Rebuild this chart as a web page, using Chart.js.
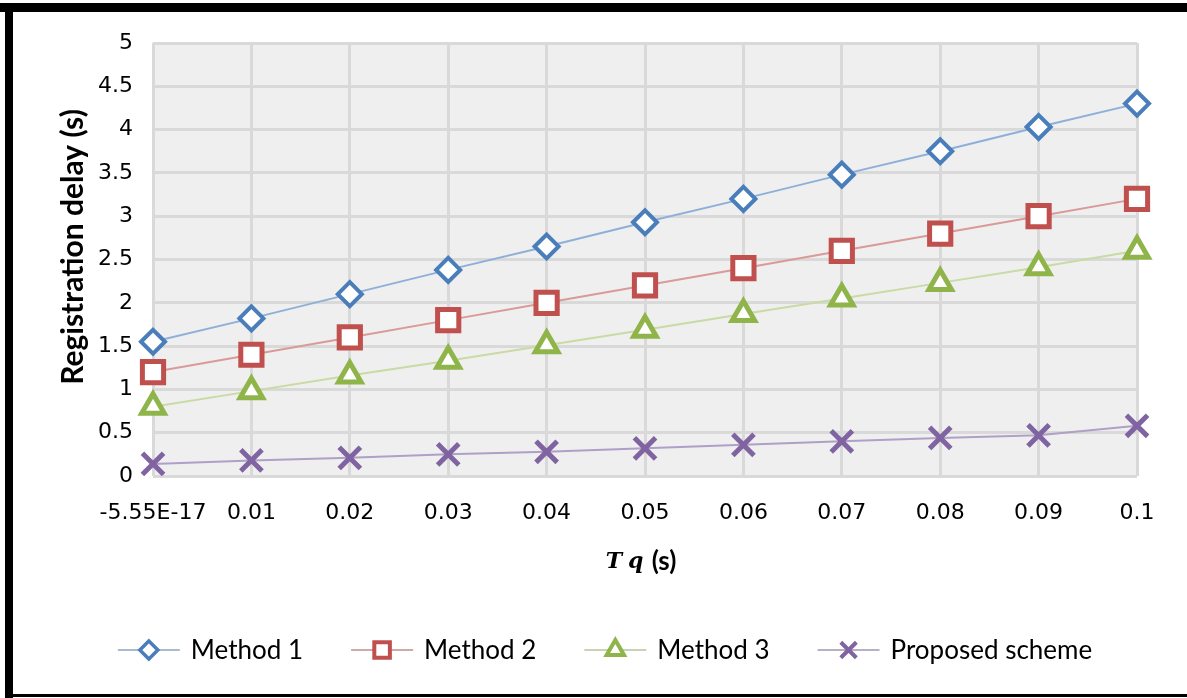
<!DOCTYPE html>
<html><head><meta charset="utf-8">
<script src="https://cdn.jsdelivr.net/npm/chart.js@4.4.0/dist/chart.umd.min.js"></script>
<style>html,body{margin:0;padding:0;background:#fff;} canvas{display:block;}</style>
</head><body>
<canvas id="c" width="1187" height="698"></canvas>
<script>
const categories = ['-5.55E-17','0.01','0.02','0.03','0.04','0.05','0.06','0.07','0.08','0.09','0.1'];
const method1 = [1.55,1.82,2.10,2.38,2.65,2.93,3.20,3.48,3.75,4.03,4.30];
const method2 = [1.20,1.40,1.60,1.80,2.00,2.20,2.40,2.60,2.80,3.00,3.20];
const method3 = [0.80,0.98,1.16,1.33,1.51,1.69,1.87,2.05,2.23,2.41,2.60];
const proposed = [0.14,0.18,0.21,0.25,0.28,0.32,0.36,0.40,0.44,0.47,0.58];
const seriesNames = ['Method 1','Method 2','Method 3','Proposed scheme'];
const yMin = 0, yMax = 5, yStep = 0.5;
const xTitleItalic = 'Tq', xTitleRest = ' (s)';
const yTitle = 'Registration delay (s)';

const FONT = 'Lato, "Open Sans", sans-serif';
const TICKFONT = '"DejaVu Sans", sans-serif';
const PLOT = {left:153, right:1137, top:43, bottom:476};

const bgPlugin = {
  id:'bg',
  beforeDraw(chart){
    const {ctx, chartArea:a} = chart;
    ctx.save();
    ctx.fillStyle='#ffffff';
    ctx.fillRect(0,0,chart.width,chart.height);
    ctx.fillStyle='#efefef';
    ctx.fillRect(a.left,a.top,a.right-a.left,a.bottom-a.top);
    ctx.restore();
  },
  afterDraw(chart){
    const {ctx, chartArea:a} = chart;
    ctx.save();
    // frame
    ctx.fillStyle='#000';
    ctx.fillRect(0,3,chart.width,9);
    ctx.fillRect(5,3,8,chart.height-3);
    ctx.fillRect(5,694,chart.width,3);
    // y title
    ctx.save();
    ctx.translate(73,247);
    ctx.rotate(-Math.PI/2);
    ctx.font='bold 22px '+FONT;
    const wt = ctx.measureText(yTitle).width;
    const fs = Math.min(30, 22*296/wt);
    ctx.font='bold '+fs.toFixed(1)+'px '+FONT;
    ctx.fillStyle='#000';
    ctx.textAlign='center';
    ctx.textBaseline='middle';
    ctx.fillText(yTitle,0,0);
    ctx.restore();
    // x title
    const itFont='italic bold 22px "DejaVu Serif", "Liberation Serif", serif';
    ctx.font=itFont;
    ctx.letterSpacing='6px';
    const w1 = ctx.measureText(xTitleItalic).width;
    ctx.letterSpacing='0px';
    ctx.font='bold 26px '+FONT;
    const w2 = ctx.measureText(xTitleRest).width;
    let x0 = 643-(w1+w2)/2;
    ctx.fillStyle='#000';
    ctx.textBaseline='alphabetic';
    ctx.textAlign='left';
    ctx.font=itFont;
    ctx.letterSpacing='6px';
    ctx.fillText(xTitleItalic,x0,568);
    ctx.letterSpacing='0px';
    ctx.font='bold 26px '+FONT;
    ctx.fillText(xTitleRest,x0+w1-4,570);
    // legend
    ctx.font='26px '+FONT;
    const iconW=62, gapT=11, gapItem=48;
    const items = chart.data.datasets.map(ds=>({ds, tw:ctx.measureText(ds.label).width}));
    const total = items.reduce((s,it)=>s+iconW+gapT+it.tw,0)+gapItem*(items.length-1);
    let x = 605-total/2;
    const ly = 650;
    items.forEach(it=>{
      const ds=it.ds;
      ctx.strokeStyle=ds.legendLine;
      ctx.lineWidth=2;
      ctx.beginPath(); ctx.moveTo(x,ly); ctx.lineTo(x+iconW,ly); ctx.stroke();
      ctx.fillStyle='#fff';
      ctx.strokeStyle=ds.pointBorderColor;
      ctx.lineWidth=ds.legendBorder;
      Chart.helpers.drawPoint(ctx,{pointStyle:ds.pointStyle,rotation:0,radius:ds.legendRadius,borderWidth:ds.legendBorder},x+iconW/2,ly);
      ctx.fillStyle='#000';
      ctx.textBaseline='middle';
      ctx.fillText(ds.label,x+iconW+gapT,ly+1);
      x += iconW+gapT+it.tw+gapItem;
    });
    ctx.restore();
  }
};

function ds(label,data,line,marker,style,radius,bw,legendLine,legendRadius,legendBorder){
  return {label,data,borderColor:line,borderWidth:2,pointStyle:style,pointRadius:radius,pointHoverRadius:radius,
    pointBorderColor:marker,pointBackgroundColor:'#ffffff',pointBorderWidth:bw,tension:0,
    legendLine,legendRadius,legendBorder};
}

new Chart(document.getElementById('c'),{
  type:'line',
  data:{labels:categories,datasets:[
    ds(seriesNames[0],method1,'#8eb0d8','#4a7ebb','rectRot',12,4,'#a9bccf',9,3.5),
    ds(seriesNames[1],method2,'#d99a98','#c0504d','rect',15,5,'#cfaaa9',11,4),
    ds(seriesNames[2],method3,'#c9dba3','#8fb54a','triangle',13,5,'#c7d3b3',10,4),
    ds(seriesNames[3],proposed,'#b09fc6','#8064a2','crossRot',15,5,'#b9b0c6',11,4)
  ]},
  options:{
    responsive:false, animation:false, devicePixelRatio:1,
    layout:{padding:{left:0,right:1187-PLOT.right,top:PLOT.top,bottom:0}},
    plugins:{legend:{display:false},tooltip:{enabled:false}},
    scales:{
      x:{type:'category',offset:false,
        grid:{color:'#d9d9d9',lineWidth:3,drawTicks:false},
        border:{display:false},
        ticks:{color:'#000',font:{family:TICKFONT,size:22},padding:24,maxRotation:0,autoSkip:false},
        afterFit(s){s.height=698-PLOT.bottom;}
      },
      y:{min:yMin,max:yMax,
        grid:{color:'#d9d9d9',lineWidth:3,drawTicks:false},
        border:{display:false},
        ticks:{stepSize:yStep,color:'#000',font:{family:TICKFONT,size:22},padding:20,
          callback:(v)=>String(Math.round(v*10)/10)},
        afterFit(s){s.width=PLOT.left;}
      }
    }
  },
  plugins:[bgPlugin]
});
</script>
</body></html>
